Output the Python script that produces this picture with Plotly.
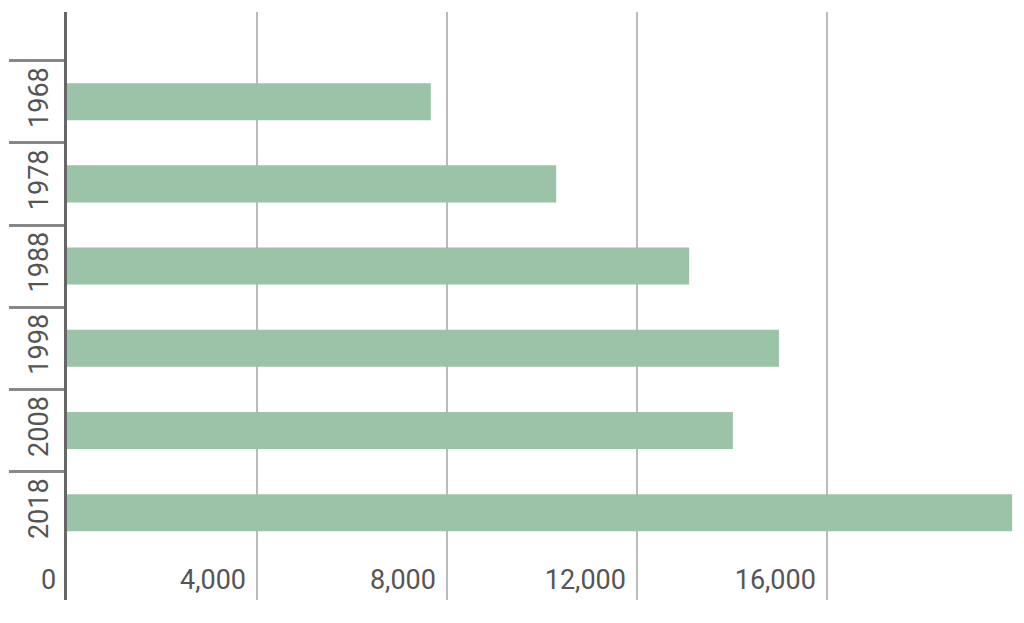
import plotly.graph_objects as go

years = ["1968", "1978", "1988", "1998", "2008", "2018"]
values = [7660, 10300, 13100, 14990, 14020, 19900]
x_ticks = [0, 4000, 8000, 12000, 16000]
x_tick_labels = ["0", "4,000", "8,000", "12,000", "16,000"]

bar_color = "#9bc3a8"
font = dict(family="Roboto", size=27, color="#555555")
y_range = [6.06, -1.09]

fig = go.Figure()
fig.add_trace(go.Bar(
    x=values, y=years, orientation="h",
    marker=dict(color=bar_color, line=dict(width=0)),
    yaxis="y", hoverinfo="x+y",
))
fig.add_trace(go.Bar(
    x=values, y=years, orientation="h",
    marker=dict(color="rgba(0,0,0,0)", line=dict(width=0)),
    yaxis="y2", hoverinfo="skip", showlegend=False,
))

fig.update_layout(
    width=1016, height=615,
    margin=dict(l=59, r=0, t=4, b=23),
    paper_bgcolor="white", plot_bgcolor="white",
    showlegend=False, bargap=0.55,
    font=font,
    xaxis=dict(
        range=[0, 20150],
        tickvals=x_ticks[1:], ticktext=x_tick_labels[1:],
        ticklabelposition="inside left", ticklabelshift=-11,
        showgrid=True, gridcolor="#bbbbbb", gridwidth=2,
        zeroline=False, showline=False, ticks="",
        tickfont=font, automargin=False,
    ),
    yaxis=dict(
        type="category", categoryorder="array", categoryarray=years,
        range=y_range,
        showticklabels=False,
        ticks="outside", tickson="boundaries", ticklen=55,
        tickcolor="#888888", tickwidth=3,
        showline=True, linecolor="#666666", linewidth=3,
        showgrid=False, zeroline=False, automargin=False,
    ),
    yaxis2=dict(
        type="category", categoryorder="array", categoryarray=years,
        range=y_range, overlaying="y", side="left",
        tickangle=-90, ticks="outside", ticklen=7,
        tickcolor="rgba(0,0,0,0)",
        showline=False, showgrid=False, zeroline=False,
        tickfont=font, automargin=False,
    ),
)

fig.add_annotation(
    x=x_ticks[0], xref="x", xanchor="right", xshift=-9,
    y=0, yref="paper", yanchor="bottom", yshift=2,
    text=x_tick_labels[0], showarrow=False, font=font,
)

fig.write_html("out.html")
